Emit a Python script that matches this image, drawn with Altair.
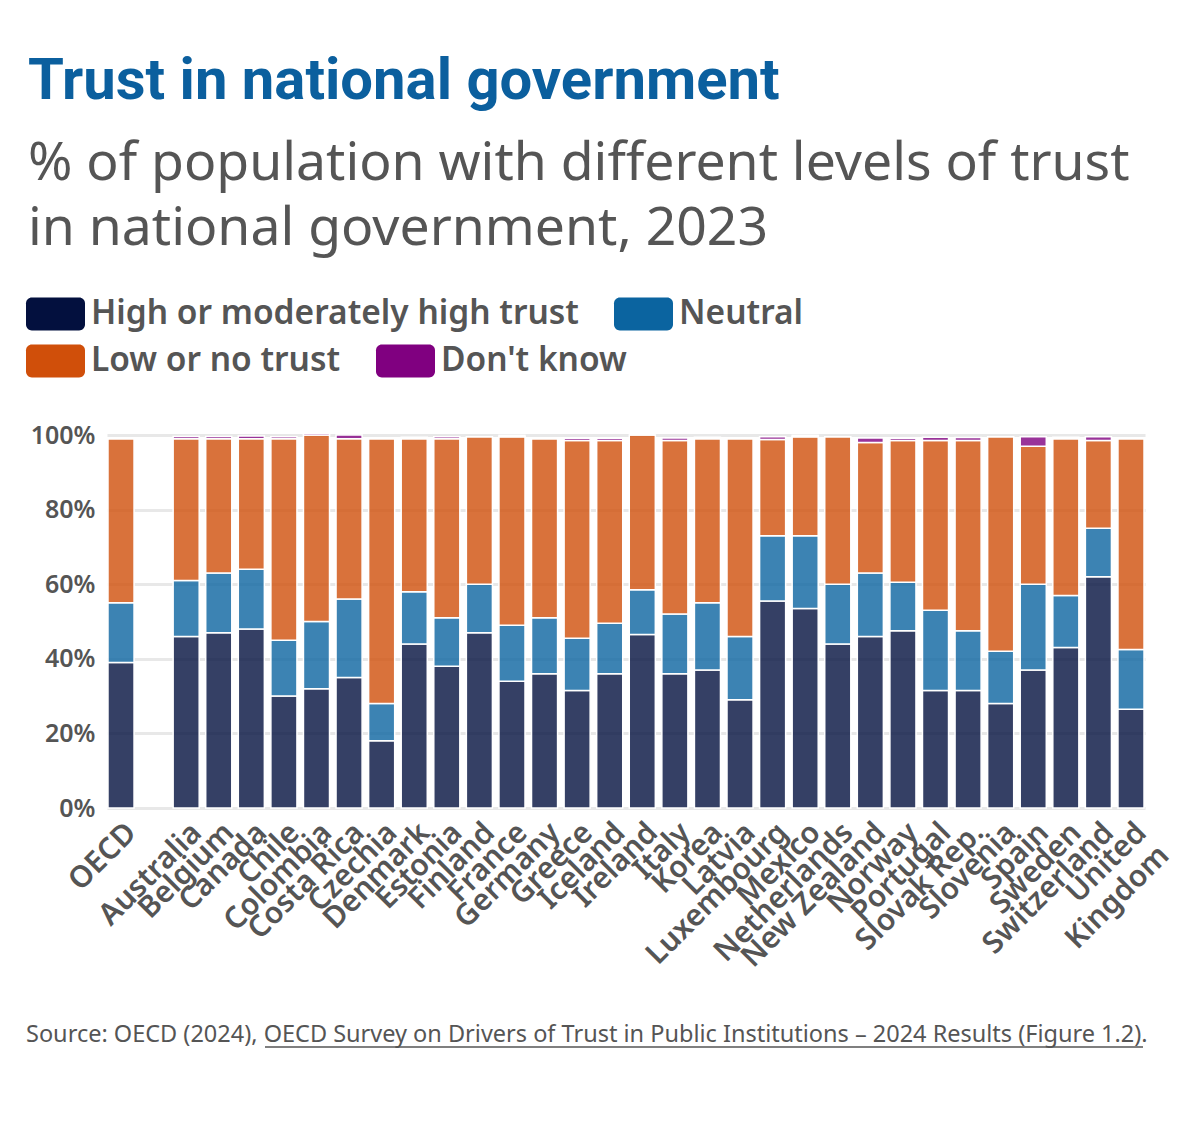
import altair as alt
import pandas as pd

countries = ["OECD", "Australia", "Belgium", "Canada", "Chile", "Colombia", "Costa Rica",
             "Czechia", "Denmark", "Estonia", "Finland", "France", "Germany", "Greece",
             "Iceland", "Ireland", "Italy", "Korea", "Latvia", "Luxembourg", "Mexico",
             "Netherlands", "New Zealand", "Norway", "Portugal", "Slovak Rep.", "Slovenia",
             "Spain", "Sweden", "Switzerland", "United Kingdom"]
high = [39, 46, 47, 48, 30, 32, 35, 18, 44, 38, 47, 34, 36, 31.5, 36, 46.5, 36, 37, 29,
        55.5, 53.5, 44, 46, 47.5, 31.5, 31.5, 28, 37, 43, 62, 26.5]
neutral = [16, 15, 16, 16, 15, 18, 21, 10, 14, 13, 13, 15, 15, 14, 13.5, 12, 16, 18, 17,
           17.5, 19.5, 16, 17, 13, 21.5, 16, 14, 23, 14, 13, 16]
low = [44, 38, 36, 35, 54, 50, 43, 71, 41, 48, 39.5, 50.5, 48, 53, 49, 41.5, 46.5, 44, 53,
       25.8, 26.5, 39.5, 35, 38, 45.5, 51, 57.5, 37, 42, 23.5, 56.5]
dontknow = [0, 0.6, 0.6, 0.7, 0.5, 0.5, 1.0, 0, 0.4, 0.5, 0, 0.4, 0, 0.6, 0.6, 0, 0.7, 0.4, 0,
            0.7, 0.4, 0, 1.2, 0.6, 0.9, 0.8, 0, 2.5, 0.4, 1.0, 0]

series = ["High or moderately high trust", "Neutral", "Low or no trust", "Don't know"]
colors = ["#03103e", "#0b64a0", "#d04f0a", "#800080"]

rows = []
for i, c in enumerate(countries):
    for k, (s, vals) in enumerate(zip(series, [high, neutral, low, dontknow])):
        rows.append({"country": c, "level": s, "value": vals[i], "order": k})
df = pd.DataFrame(rows)

domain = [countries[0], " "] + countries[1:]

sym = ("M-0.8,-0.56 L0.8,-0.56 A0.2,0.2 0 0 1 1,-0.36 L1,0.36 A0.2,0.2 0 0 1 0.8,0.56 "
       "L-0.8,0.56 A0.2,0.2 0 0 1 -1,0.36 L-1,-0.36 A0.2,0.2 0 0 1 -0.8,-0.56 Z")

x_enc = alt.X("country:N", scale=alt.Scale(domain=domain, paddingInner=0.2, paddingOuter=0.03),
              axis=alt.Axis(title=None, labelAngle=-45, labelAlign="right", labelBaseline="top",
                            labelFont="Noto Sans", labelFontSize=30, labelFontWeight=600,
                            labelColor="#555555", ticks=False, domain=False, labelPadding=9,
                            labelLineHeight=32, labelLimit=400,
                            labelExpr="datum.label == 'United Kingdom' ? ['United', 'Kingdom'] : datum.label"))
y_enc = alt.Y("value:Q", stack="zero", scale=alt.Scale(domain=[0, 100], nice=False),
              axis=alt.Axis(title=None, values=[0, 20, 40, 60, 80, 100],
                            labelExpr="datum.value + '%'", labelFont="Noto Sans",
                            labelFontSize=25, labelFontWeight=600, labelColor="#555555",
                            ticks=False, domain=False, labelPadding=12,
                            gridColor="#e8e8e8", gridWidth=3))


def legend(values, lx, ly):
    return alt.Legend(title=None, orient="none", legendX=lx, legendY=ly,
                      direction="horizontal", values=values,
                      symbolType=sym, symbolSize=3481, symbolStrokeWidth=0,
                      symbolOpacity=1, labelFont="Noto Sans", labelFontSize=33.5,
                      labelFontWeight=600, labelColor="#555555",
                      labelOffset=6, columnPadding=35, labelLimit=700)


bars = alt.Chart(df).mark_bar(fillOpacity=0.8, stroke="white", strokeWidth=1.5).encode(
    x=x_enc, y=y_enc,
    color=alt.Color("level:N", scale=alt.Scale(domain=series, range=colors),
                    legend=legend(series[:2], -81, -151)),
    order=alt.Order("order:Q", sort="ascending"),
)

legend_row2 = alt.Chart(df).mark_bar(opacity=0).encode(
    x=x_enc, y=y_enc,
    fill=alt.Fill("level:N", scale=alt.Scale(domain=series, range=colors),
                  legend=legend(series[2:], -81, -104)),
    order=alt.Order("order:Q", sort="ascending"),
)

src = alt.Chart(pd.DataFrame({"t": ["Source: OECD (2024), OECD Survey on Drivers of Trust in Public Institutions \u2013 2024 Results (Figure 1.2)."]})).mark_text(
    align="left", baseline="alphabetic", font="Noto Sans", fontSize=23.5, color="#555555"
).encode(text="t:N", x=alt.value(-81), y=alt.value(607))

underline = alt.Chart(pd.DataFrame({"a": [0]})).mark_rule(color="#555555", strokeWidth=1.5).encode(
    x=alt.value(158), x2=alt.value(1036), y=alt.value(612))

chart = alt.layer(bars, legend_row2, src, underline).resolve_scale(color="independent").properties(
    width=1038, height=373,
    autosize=alt.AutoSizeParams(type="none"),
    padding={"left": 99, "top": 427, "right": 47, "bottom": 290},
    title=alt.TitleParams(
        text="Trust in national government",
        subtitle=["% of population with different levels of trust", "in national government, 2023"],
        anchor="start", frame="group", dx=-79, offset=29,
        font="Roboto", fontSize=58, fontWeight="bold", color="#0b5f9e",
        subtitleFont="Noto Sans", subtitleFontSize=53.5, subtitleColor="#555555",
        subtitleLineHeight=65, subtitlePadding=27),
).configure_view(stroke=None)

chart.save("out.html", embed_options={"renderer": "svg", "actions": False})
